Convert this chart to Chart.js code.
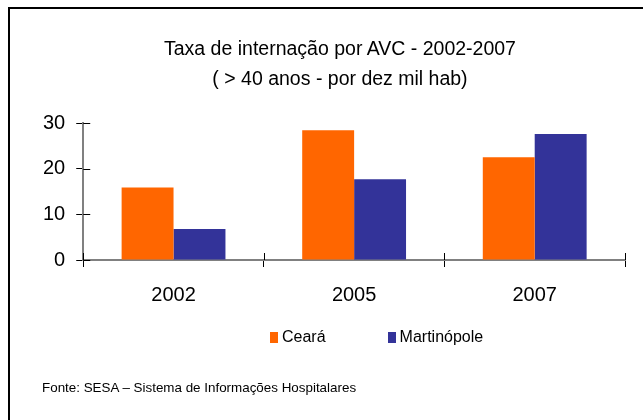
<!DOCTYPE html>
<html>
<head>
<meta charset="utf-8">
<script src="https://cdn.jsdelivr.net/npm/chart.js@4"></script>
<style>
  html, body { margin: 0; padding: 0; background: #fff; }
  body { width: 643px; height: 420px; position: relative; overflow: hidden; font-family: "Liberation Sans", Arial, sans-serif; }
  #frame { position: absolute; left: 8px; top: 7px; width: 700px; height: 500px; border-top: 2px solid #000; border-left: 2px solid #000; }
  #chart { position: absolute; left: 0; top: 0; }
  #title { position: absolute; left: 140px; width: 400px; top: 33px; text-align: center; font-size: 19.5px; line-height: 30px; color: #000; }
  #legend { position: absolute; top: 328px; left: 270px; font-family: "Liberation Sans Narrow", "Liberation Sans", sans-serif; font-size: 16px; color: #000; white-space: nowrap; }
  #legend span.item { display: inline-block; margin-right: 62px; }
  #legend i { display: inline-block; width: 8px; height: 11px; margin-right: 4px; vertical-align: -1px; }
  #footer { position: absolute; left: 42px; top: 380px; font-family: "Liberation Sans Narrow", "Liberation Sans", sans-serif; font-size: 13.4px; color: #000; white-space: nowrap; }
</style>
</head>
<body>
<div id="frame"></div>
<canvas id="chart" width="643" height="420"></canvas>
<div id="title">Taxa de internação por AVC - 2002-2007<br>( &gt; 40 anos - por dez mil hab)</div>
<div id="legend"></div>
<div id="footer">Fonte: SESA – Sistema de Informações Hospitalares</div>
<script>
const years = ['2002', '2005', '2007'];
const ceara = [15.9, 28.4, 22.5];
const martinopole = [6.8, 17.7, 27.6];
const yTicks = [0, 10, 20, 30];

const orange = '#ff6600';
const navy = '#333399';

// short tick marks on the inner side of both axes
const innerTicks = {
  id: 'innerTicks',
  afterDraw(chart) {
    const ctx = chart.ctx;
    const area = chart.chartArea;
    const x = chart.scales.x;
    const y = chart.scales.y;
    ctx.save();
    ctx.strokeStyle = '#000';
    ctx.lineWidth = 1;
    ctx.beginPath();
    y.ticks.forEach((t, i) => {
      const py = Math.round(y.getPixelForTick(i)) + 0.5;
      ctx.moveTo(area.left, py);
      ctx.lineTo(area.left + 7, py);
    });
    for (let i = 0; i <= years.length; i++) {
      const px = Math.round(x.getPixelForValue(i - 0.5)) + 0.5;
      ctx.moveTo(px, area.bottom);
      ctx.lineTo(px, area.bottom - 7);
    }
    ctx.stroke();
    ctx.restore();
  }
};

const chart = new Chart(document.getElementById('chart'), {
  type: 'bar',
  data: {
    labels: years,
    datasets: [
      { label: 'Ceará', data: ceara, backgroundColor: orange },
      { label: 'Martinópole', data: martinopole, backgroundColor: navy }
    ]
  },
  options: {
    responsive: false,
    animation: false,
    categoryPercentage: 0.575,
    barPercentage: 1,
    layout: { padding: { top: 123, left: 32, right: 18, bottom: 97 } },
    plugins: {
      legend: { display: false },
      title: { display: false },
      tooltip: { enabled: false }
    },
    scales: {
      x: {
        grid: { drawOnChartArea: false, offset: true, tickLength: 7, tickColor: '#000' },
        border: { color: '#808080', width: 2 },
        ticks: { color: '#000', padding: 16, font: { family: 'Liberation Sans', size: 20 } }
      },
      y: {
        min: 0,
        max: 30,
        afterBuildTicks(scale) { scale.ticks = yTicks.map((v) => ({ value: v })); },
        grid: { drawOnChartArea: false, tickLength: 7, tickColor: '#000' },
        border: { color: '#808080', width: 2 },
        ticks: { color: '#000', padding: 11, font: { family: 'Liberation Sans', size: 20 } }
      }
    }
  },
  plugins: [innerTicks]
});

const legend = document.getElementById('legend');
chart.data.datasets.forEach((ds) => {
  const item = document.createElement('span');
  item.className = 'item';
  const box = document.createElement('i');
  box.style.background = ds.backgroundColor;
  item.appendChild(box);
  item.appendChild(document.createTextNode(ds.label));
  legend.appendChild(item);
});
</script>
</body>
</html>
